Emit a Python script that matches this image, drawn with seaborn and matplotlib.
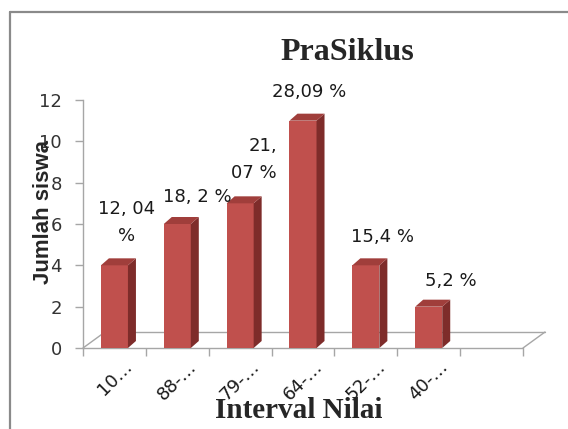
import numpy as np
import matplotlib
matplotlib.use("Agg")
import matplotlib.pyplot as plt
from matplotlib.patches import Polygon
from matplotlib.lines import Line2D
import seaborn as sns

# ---- data ----
categories = ["10…", "88-…", "79-…", "64-…", "52-…", "40-…"]
values = [4, 6, 7, 11, 4, 2]
pct_labels = ["12, 04\n%", "18, 2 %", "21,\n07 %", "28,09 %", "15,4 %", "5,2 %"]
yticks = [0, 2, 4, 6, 8, 10, 12]
title = "PraSiklus"
xlabel = "Interval Nilai"
ylabel = "Jumlah siswa"

# ---- style ----
sns.set_style("white")
plt.rcParams["font.family"] = ["DejaVu Sans"]

W, H, DPI = 568, 429, 100
fig = plt.figure(figsize=(W / DPI, H / DPI), dpi=DPI)
ax = fig.add_axes([83 / W, 81 / H, 440 / W, 248 / H])

front = "#C0504D"
side = "#7E2C2A"
top = "#A03E3B"

sns.barplot(x=categories, y=values, color=front, saturation=1, width=0.43,
            ax=ax, zorder=3, edgecolor="none")

nslots = 7
ax.set_xlim(-0.5, nslots - 0.5)
ax.set_ylim(0, 12)

px_x = 440 / nslots   # pixels per category unit
px_y = 248 / 12       # pixels per y unit

# 3D faces for the bars
bdx, bdy = 8 / px_x, 7 / px_y
for p in ax.patches[:len(values)]:
    x0 = p.get_x(); w = p.get_width(); h = p.get_height()
    x1 = x0 + w
    ax.add_patch(Polygon([(x1, 0), (x1, h), (x1 + bdx, h + bdy), (x1 + bdx, bdy)],
                         closed=True, facecolor=side, edgecolor="none", zorder=3))
    ax.add_patch(Polygon([(x0, h), (x1, h), (x1 + bdx, h + bdy), (x0 + bdx, h + bdy)],
                         closed=True, facecolor=top, edgecolor="none", zorder=3))

# floor
fdx, fdy = 22 / px_x, 16 / px_y
fl = "#a6a6a6"
xa, xb = -0.5, nslots - 0.5
for xs, ys in [([xa, xb], [0, 0]), ([xb, xb + fdx], [0, fdy]),
               ([xa + fdx, xb + fdx], [fdy, fdy]), ([xa, xa + fdx], [0, fdy])]:
    ax.plot(xs, ys, color=fl, lw=1, clip_on=False, zorder=1)

# data labels
offsets = [(12, 43), (20, 27), (14, 44), (6, 29), (17, 28), (22, 26)]
for i, (v, lab, off) in enumerate(zip(values, pct_labels, offsets)):
    ax.annotate(lab, xy=(i, v), xytext=off, textcoords="offset pixels",
                ha="center", va="center", multialignment="right" if i == 2 else "center",
                fontsize=13, color="#1a1a1a", linespacing=1.6, zorder=5)

# spines
for s in ["top", "right", "bottom"]:
    ax.spines[s].set_visible(False)
ax.spines["left"].set_color(fl)
ax.spines["left"].set_linewidth(1)

# y axis
ax.set_yticks(yticks)
ax.tick_params(axis="y", length=5.8, width=1, color=fl, pad=9.4,
               labelsize=13, labelcolor="#333333", left=True)

# x axis
ax.set_xticks(range(len(categories)))
ax.set_xticklabels(categories, rotation=45, ha="center")
ax.set_xticks(np.arange(-0.5, nslots, 1), minor=True)
ax.tick_params(axis="x", which="major", length=0, pad=7, labelsize=13,
               labelcolor="#1a1a1a", bottom=True)
ax.tick_params(axis="x", which="minor", length=5.5, width=1, color=fl,
               direction="out", bottom=True)

ax.set_xlabel(xlabel, fontsize=21, fontweight="bold", family="Liberation Serif")
ax.xaxis.set_label_coords(0.49, -0.196)
ax.set_ylabel(ylabel, fontsize=16, fontweight="bold", family="Liberation Sans")
ax.yaxis.set_label_coords(-0.066, 0.548)
ax.set_title(title, fontsize=23, fontweight="bold", family="Liberation Serif",
             x=0.6, y=1.161, pad=0)

# outer frame
bc = "#8a8a8a"
fig.add_artist(Line2D([10 / W, 10 / W], [0, 1 - 12 / H], transform=fig.transFigure,
                      color=bc, lw=1.6))
fig.add_artist(Line2D([10 / W, 1], [1 - 12 / H, 1 - 12 / H], transform=fig.transFigure,
                      color=bc, lw=1.6))

fig.savefig("out.png", dpi=DPI)
